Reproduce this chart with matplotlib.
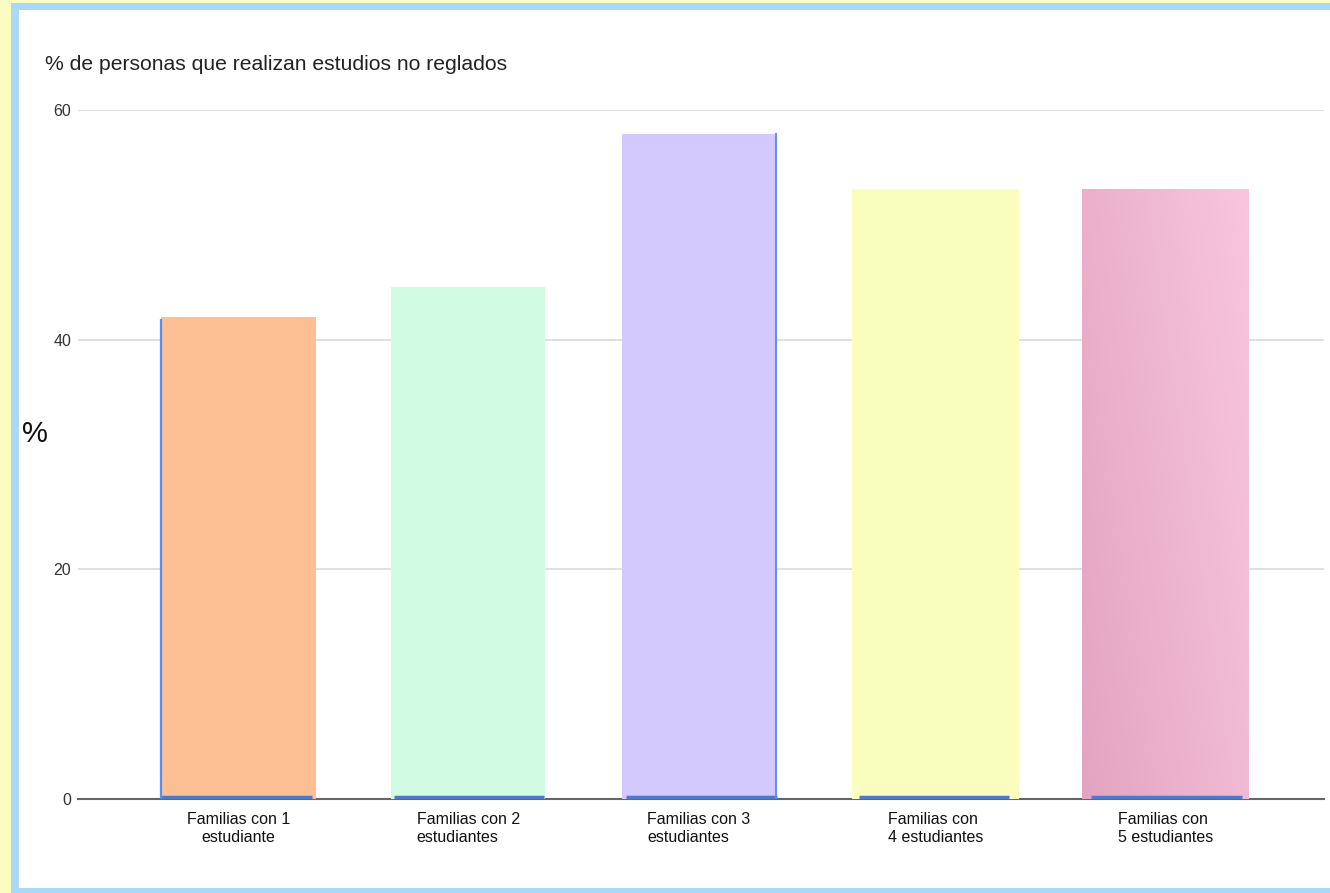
import matplotlib
matplotlib.use("Agg")
import matplotlib.pyplot as plt
from matplotlib.patches import Rectangle
from matplotlib.colors import LinearSegmentedColormap
import numpy as np

plt.rcParams['font.family'] = ['Liberation Sans', 'DejaVu Sans']

# ---- data ----
categories = ["Familias con 1\nestudiante", "Familias con 2\nestudiantes",
              "Familias con 3\nestudiantes", "Familias con\n4 estudiantes",
              "Familias con\n5 estudiantes"]
values = [42.0, 44.6, 57.9, 53.1, 53.1]
yticks = [0, 20, 40, 60]
title = "% de personas que realizan estudios no reglados"
ylabel = "%"

# ---- style ----
bar_colors = ["#FBBF93", "#D1FCE3", "#D3C9FD", "#F9FDBE", "#F0B9D2"]
bar_widths = [0.673, 0.668, 0.673, 0.725, 0.725]
label_align = ["center", "left", "left", "left", "left"]
edge_blue = "#4F78C8"

W, H = 1330, 893
fig = plt.figure(figsize=(W / 100, H / 100), dpi=100)
fig.patch.set_facecolor("#FAFCC2")

# frame: blue border and white panel
fig.patches.append(Rectangle((11 / W, 0), 1.0, 1 - 3 / H, transform=fig.transFigure,
                             facecolor="#A9D9F4", edgecolor="none", zorder=-2))
fig.patches.append(Rectangle((19 / W, 5 / H), 1.0, 1 - 10 / H - 5 / H,
                             transform=fig.transFigure,
                             facecolor="white", edgecolor="none", zorder=-1))

ax = fig.add_axes([78 / W, (H - 799) / H, (1324 - 78) / W, (799 - 110) / H])
ax.set_zorder(2)
ax.set_facecolor("none")

x = np.arange(len(values))
bars = ax.bar(x, values, width=bar_widths, align="edge", color=bar_colors,
              edgecolor="none", zorder=2)

# soft pink gradient on the last bar (clipped to the bar itself)
bp = bars[-1]
gx, gy = np.meshgrid(np.linspace(0, 1, 64), np.linspace(0, 1, 64))
grad = 0.65 * gx + 0.35 * gy
pink_cmap = LinearSegmentedColormap.from_list("pk", ["#E4A4C1", "#F8C6DE"])
img = ax.imshow(grad, cmap=pink_cmap, origin="lower", aspect="auto",
                extent=[bp.get_x(), bp.get_x() + bp.get_width(), 0, bp.get_height()],
                zorder=2.1, interpolation="bilinear")
img.set_clip_path(bp)

# blue accents from the original bars
for i, b in enumerate(bars):
    x0 = b.get_x()
    ax.plot([x0 + 0.01 * i, x0 + 0.01 * i + 0.655], [0.15, 0.15], color=edge_blue,
            lw=2.5, solid_capstyle="butt", zorder=3)
b0 = bars[0]
ax.plot([b0.get_x(), b0.get_x()], [0, b0.get_height() - 0.3], color="#5B8DEF",
        lw=1.6, zorder=3)
b2 = bars[2]
ax.plot([b2.get_x() + b2.get_width()] * 2, [0, b2.get_height()], color="#5B8DEF",
        lw=1.4, zorder=3)

ax.set_xlim(-0.3605, 5.051)
ax.set_ylim(0, 60)
ax.set_yticks(yticks)
ax.set_yticklabels([str(t) for t in yticks], fontsize=11.5, color="#333333")
ax.yaxis.grid(True, color="#DADADA", lw=1.2, zorder=0)
ax.set_axisbelow(True)
ax.tick_params(axis="y", length=0, pad=5)
ax.tick_params(axis="x", length=0, pad=9)

centers = [b.get_x() + b.get_width() / 2 for b in bars]
ax.set_xticks(centers)
ax.set_xticklabels(categories, fontsize=11.5, color="#111111", linespacing=1.3)
for lab, al in zip(ax.get_xticklabels(), label_align):
    lab.set_multialignment(al)

for s in ["top", "right", "left"]:
    ax.spines[s].set_visible(False)
ax.spines["bottom"].set_color("#666666")
ax.spines["bottom"].set_linewidth(1.5)
ax.spines["bottom"].set_zorder(1)

fig.text(45 / W, 1 - 64 / H, title, fontsize=15.2, color="#222222", va="center", ha="left")
fig.text(35 / W, 1 - 434 / H, ylabel, fontsize=21, color="#111111", va="center", ha="center")

fig.savefig("out.png", dpi=100)
